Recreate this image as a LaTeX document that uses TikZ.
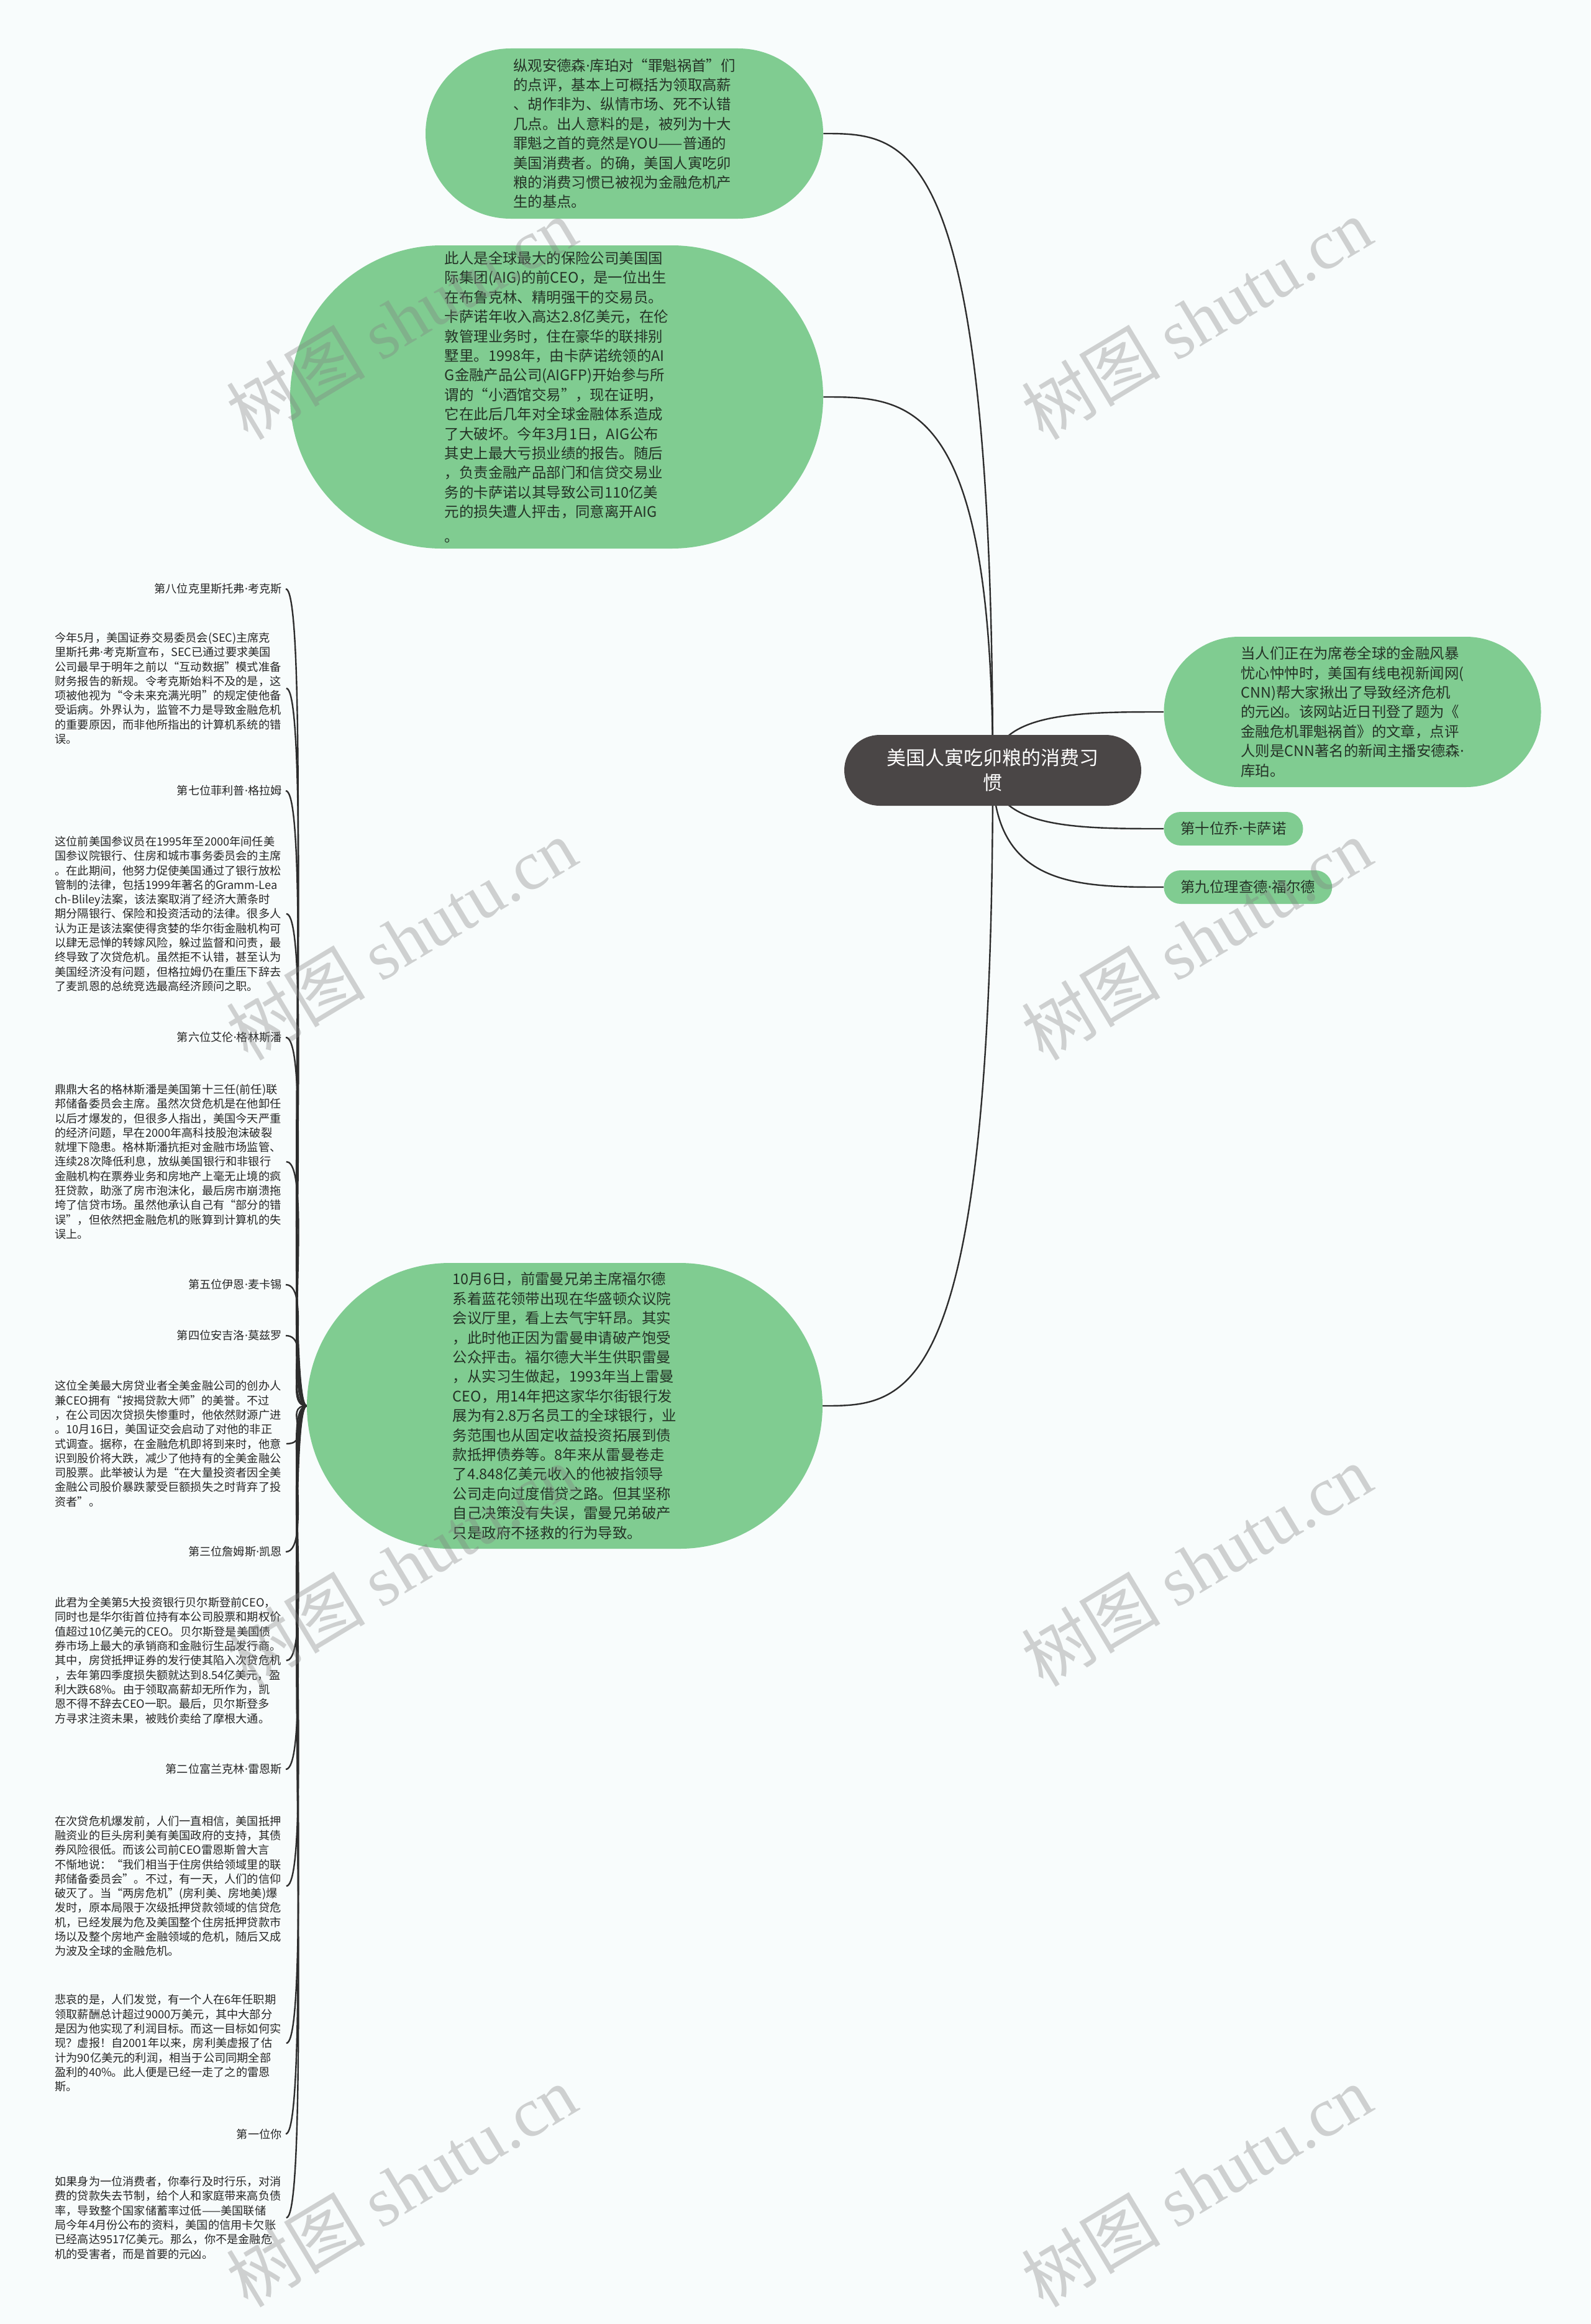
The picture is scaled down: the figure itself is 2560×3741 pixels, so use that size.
\documentclass[tikz,border=0pt]{standalone}
\usepackage{fontspec}
\setmainfont{Noto Sans CJK SC}
\newfontfamily\wmfont{Liberation Serif}
\newfontfamily\dotfont{Noto Sans}
\newcommand{\namedot}{{\dotfont ·}}
\usetikzlibrary{calc, backgrounds}
\definecolor{mm-green}{RGB}{128,204,145}
\definecolor{mm-root}{RGB}{74,70,70}
\definecolor{mm-line}{RGB}{45,45,45}
\definecolor{mm-text}{RGB}{36,50,38}
\definecolor{mm-bg}{RGB}{248,252,252}

\begin{document}
\begin{tikzpicture}[x=0.5pt, y=-0.5pt,
  rootbox/.style={fill=mm-root, text=white, rounded corners=28.5pt, minimum width=239pt, minimum height=57pt, align=center, font=\fontsize{15.5}{20}\selectfont},
  bubble/.style={fill=mm-green, text=mm-text, align=left, font=\fontsize{11.7}{15.7}\selectfont},
  leafbox/.style={fill=mm-green, text=mm-text, anchor=west, rounded corners=13.5pt, minimum height=27pt, inner xsep=13.5pt, font=\fontsize{11.7}{14}\selectfont},
  who/.style={anchor=east, inner sep=3pt, text=black!85, font=\fontsize{9.1}{11.65}\selectfont},
  story/.style={anchor=west, inner sep=3pt, text width=183pt, align=left, text=black!85, font=\fontsize{9.1}{11.65}\selectfont},
  conn/.style={draw=mm-line, line width=1.2pt},
  rootlink/.style={to path={.. controls (\tikztostart |- \tikztotarget) and ($(\tikztostart |- \tikztotarget)!0.5!(\tikztotarget)$) .. (\tikztotarget)}},
  leftlink/.style={to path={.. controls ($(\tikztostart)+(-40,0)$) and ($(\tikztotarget)+(45,0)$) .. (\tikztotarget)}},
  wmark/.style={rotate=31, text=gray, opacity=0.35, font=\fontsize{56}{56}\selectfont},
]
  \useasboundingbox (0,0) rectangle (2560,3741);

  % Root
  \node[rootbox] (root) at (1598,1240) {美国人寅吃卯粮的消费习\\惯};

  % Big bubbles
  \node[bubble, minimum width=320pt, minimum height=137pt, rounded corners=68.5pt] (intro) at (1005,215) {纵观安德森\namedot 库珀对“罪魁祸首”们\\
的点评，基本上可概括为领取高薪\\
、胡作非为、纵情市场、死不认错\\
几点。出人意料的是，被列为十大\\
罪魁之首的竟然是YOU——普通的\\
美国消费者。的确，美国人寅吃卯\\
粮的消费习惯已被视为金融危机产\\
生的基点。};

  \node[bubble, minimum width=429pt, minimum height=244pt, rounded corners=122pt] (aig) at (896,639) {此人是全球最大的保险公司美国国\\
际集团(AIG)的前CEO，是一位出生\\
在布鲁克林、精明强干的交易员。\\
卡萨诺年收入高达2.8亿美元，在伦\\
敦管理业务时，住在豪华的联排别\\
墅里。1998年，由卡萨诺统领的AI\\
G金融产品公司(AIGFP)开始参与所\\
谓的“小酒馆交易”，现在证明，\\
它在此后几年对全球金融体系造成\\
了大破坏。今年3月1日，AIG公布\\
其史上最大亏损业绩的报告。随后\\
，负责金融产品部门和信贷交易业\\
务的卡萨诺以其导致公司110亿美\\
元的损失遭人抨击，同意离开AIG\\[4pt]
。};

  \node[bubble, minimum width=303.5pt, minimum height=121pt, rounded corners=60.5pt] (cnn) at (2177,1146) {当人们正在为席卷全球的金融风暴\\
忧心忡忡时，美国有线电视新闻网(\\
CNN)帮大家揪出了导致经济危机\\
的元凶。该网站近日刊登了题为《\\
金融危机罪魁祸首》的文章，点评\\
人则是CNN著名的新闻主播安德森\namedot\\
库珀。};

  \node[bubble, minimum width=415pt, minimum height=230pt, rounded corners=115pt] (fuld) at (909,2263) {10月6日，前雷曼兄弟主席福尔德\\
系着蓝花领带出现在华盛顿众议院\\
会议厅里，看上去气宇轩昂。其实\\
，此时他正因为雷曼申请破产饱受\\
公众抨击。福尔德大半生供职雷曼\\
，从实习生做起，1993年当上雷曼\\
CEO，用14年把这家华尔街银行发\\
展为有2.8万名员工的全球银行，业\\
务范围也从固定收益投资拓展到债\\
款抵押债券等。8年来从雷曼卷走\\
了4.848亿美元收入的他被指领导\\
公司走向过度借贷之路。但其坚称\\
自己决策没有失误，雷曼兄弟破产\\
只是政府不拯救的行为导致。};

  % Small leaves on the right
  \node[leafbox] (tenth) at (1873,1334) {第十位乔\namedot 卡萨诺};
  \node[leafbox] (ninth) at (1873,1428) {第九位理查德\namedot 福尔德};

  % Left column
  \node[who] (l8) at (460,948) {第八位克里斯托弗\namedot 考克斯};
  \node[story] (d8) at (82,1108) {今年5月，美国证券交易委员会(SEC)主席克\\
里斯托弗\namedot 考克斯宣布，SEC已通过要求美国\\
公司最早于明年之前以“互动数据”模式准备\\
财务报告的新规。令考克斯始料不及的是，这\\
项被他视为“令未来充满光明”的规定使他备\\
受诟病。外界认为，监管不力是导致金融危机\\
的重要原因，而非他所指出的计算机系统的错\\
误。};
  \node[who] (l7) at (460,1273) {第七位菲利普\namedot 格拉姆};
  \node[story] (d7) at (82,1471) {这位前美国参议员在1995年至2000年间任美\\
国参议院银行、住房和城市事务委员会的主席\\
。在此期间，他努力促使美国通过了银行放松\\
管制的法律，包括1999年著名的Gramm-Lea\\
ch-Bliley法案，该法案取消了经济大萧条时\\
期分隔银行、保险和投资活动的法律。很多人\\
认为正是该法案使得贪婪的华尔街金融机构可\\
以肆无忌惮的转嫁风险，躲过监督和问责，最\\
终导致了次贷危机。虽然拒不认错，甚至认为\\
美国经济没有问题，但格拉姆仍在重压下辞去\\
了麦凯恩的总统竞选最高经济顾问之职。};
  \node[who] (l6) at (460,1670) {第六位艾伦\namedot 格林斯潘};
  \node[story] (d6) at (82,1870) {鼎鼎大名的格林斯潘是美国第十三任(前任)联\\
邦储备委员会主席。虽然次贷危机是在他卸任\\
以后才爆发的，但很多人指出，美国今天严重\\
的经济问题，早在2000年高科技股泡沫破裂\\
就埋下隐患。格林斯潘抗拒对金融市场监管、\\
连续28次降低利息，放纵美国银行和非银行\\
金融机构在票券业务和房地产上毫无止境的疯\\
狂贷款，助涨了房市泡沫化，最后房市崩溃拖\\
垮了信贷市场。虽然他承认自己有“部分的错\\
误”，但依然把金融危机的账算到计算机的失\\
误上。};
  \node[who] (l5) at (460,2068) {第五位伊恩\namedot 麦卡锡};
  \node[who] (l4) at (460,2150) {第四位安吉洛\namedot 莫兹罗};
  \node[story] (d4) at (82,2324) {这位全美最大房贷业者全美金融公司的创办人\\
兼CEO拥有“按揭贷款大师”的美誉。不过\\
，在公司因次贷损失惨重时，他依然财源广进\\
。10月16日，美国证交会启动了对他的非正\\
式调查。据称，在金融危机即将到来时，他意\\
识到股价将大跌，减少了他持有的全美金融公\\
司股票。此举被认为是“在大量投资者因全美\\
金融公司股价暴跌蒙受巨额损失之时背弃了投\\
资者”。};
  \node[who] (l3) at (460,2498) {第三位詹姆斯\namedot 凯恩};
  \node[story] (d3) at (82,2673) {此君为全美第5大投资银行贝尔斯登前CEO，\\
同时也是华尔街首位持有本公司股票和期权价\\
值超过10亿美元的CEO。贝尔斯登是美国债\\
券市场上最大的承销商和金融衍生品发行商。\\
其中，房贷抵押证券的发行使其陷入次贷危机\\
，去年第四季度损失额就达到8.54亿美元，盈\\
利大跌68\%。由于领取高薪却无所作为，凯\\
恩不得不辞去CEO一职。最后，贝尔斯登多\\
方寻求注资未果，被贱价卖给了摩根大通。};
  \node[who] (l2) at (460,2848) {第二位富兰克林\namedot 雷恩斯};
  \node[story] (d2) at (82,3036) {在次贷危机爆发前，人们一直相信，美国抵押\\
融资业的巨头房利美有美国政府的支持，其债\\
券风险很低。而该公司前CEO雷恩斯曾大言\\
不惭地说：“我们相当于住房供给领域里的联\\
邦储备委员会”。不过，有一天，人们的信仰\\
破灭了。当“两房危机”(房利美、房地美)爆\\
发时，原本局限于次级抵押贷款领域的信贷危\\
机，已经发展为危及美国整个住房抵押贷款市\\
场以及整个房地产金融领域的危机，随后又成\\
为波及全球的金融危机。};
  \node[story] (d2b) at (82,3289) {悲哀的是，人们发觉，有一个人在6年任职期\\
领取薪酬总计超过9000万美元，其中大部分\\
是因为他实现了利润目标。而这一目标如何实\\
现？虚报！自2001年以来，房利美虚报了估\\
计为90亿美元的利润，相当于公司同期全部\\
盈利的40\%。此人便是已经一走了之的雷恩\\
斯。};
  \node[who] (l1) at (460,3435) {第一位你};
  \node[story] (d1) at (82,3570) {如果身为一位消费者，你奉行及时行乐，对消\\
费的贷款失去节制，给个人和家庭带来高负债\\
率，导致整个国家储蓄率过低——美国联储\\
局今年4月份公布的资料，美国的信用卡欠账\\
已经高达9517亿美元。那么，你不是金融危\\
机的受害者，而是首要的元凶。};

  \begin{scope}[on background layer]
    \fill[mm-bg] (0,0) rectangle (2560,3741);

    % Root branches
    \draw[conn] (root.center) to[rootlink] (intro.east);
    \draw[conn] (root.center) to[rootlink] (aig.east);
    \draw[conn] (root.center) to[rootlink] (cnn.west);
    \draw[conn] (root.center) to[rootlink] (tenth.west);
    \draw[conn] (root.center) to[rootlink] (ninth.west);
    \draw[conn] (root.center) to[rootlink] (fuld.east) -- (fuld.west);

    % Left column branches
    \draw[conn] (fuld.west) to[leftlink] (l8.east);
    \draw[conn] (fuld.west) to[leftlink] (d8.east);
    \draw[conn] (fuld.west) to[leftlink] (l7.east);
    \draw[conn] (fuld.west) to[leftlink] (d7.east);
    \draw[conn] (fuld.west) to[leftlink] (l6.east);
    \draw[conn] (fuld.west) to[leftlink] (d6.east);
    \draw[conn] (fuld.west) to[leftlink] (l5.east);
    \draw[conn] (fuld.west) to[leftlink] (l4.east);
    \draw[conn] (fuld.west) to[leftlink] (d4.east);
    \draw[conn] (fuld.west) to[leftlink] (l3.east);
    \draw[conn] (fuld.west) to[leftlink] (d3.east);
    \draw[conn] (fuld.west) to[leftlink] (l2.east);
    \draw[conn] (fuld.west) to[leftlink] (d2.east);
    \draw[conn] (fuld.west) to[leftlink] (d2b.east);
    \draw[conn] (fuld.west) to[leftlink] (l1.east);
    \draw[conn] (fuld.west) to[leftlink] (d1.east);
  \end{scope}

  % Watermarks
  \node[wmark] (wm1) at (646,513) {树图 {\wmfont shutu.cn}};
  \node[wmark] (wm2) at (1926,513) {树图 {\wmfont shutu.cn}};
  \node[wmark] (wm3) at (646,1512) {树图 {\wmfont shutu.cn}};
  \node[wmark] (wm4) at (1926,1512) {树图 {\wmfont shutu.cn}};
  \node[wmark] (wm5) at (646,2520) {树图 {\wmfont shutu.cn}};
  \node[wmark] (wm6) at (1926,2520) {树图 {\wmfont shutu.cn}};
  \node[wmark] (wm7) at (646,3519) {树图 {\wmfont shutu.cn}};
  \node[wmark] (wm8) at (1926,3519) {树图 {\wmfont shutu.cn}};
\end{tikzpicture}
\end{document}
